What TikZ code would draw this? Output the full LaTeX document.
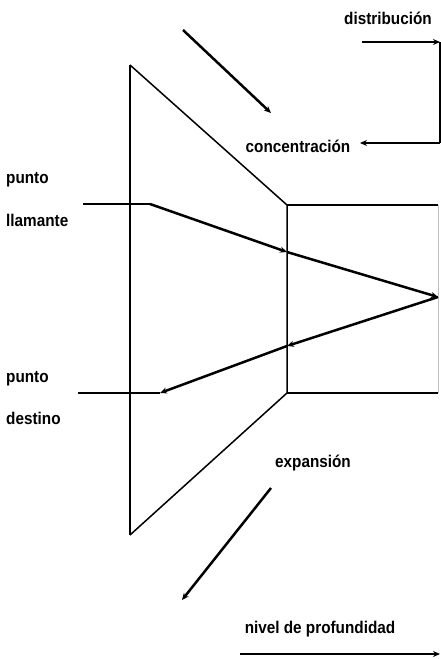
\documentclass[tikz,border=0pt]{standalone}
\usepackage{fontspec}
\setmainfont{Liberation Sans}[FakeStretch=0.9]
\usetikzlibrary{arrows.meta}
\begin{document}
\begin{tikzpicture}[x=1pt,y=-1pt,
  lbl/.style={font=\bfseries\fontsize{17}{20}\selectfont, inner sep=0pt},
  thin/.style={line width=1.5pt},
  thick/.style={line width=2.5pt},
  tip/.style={-{Stealth[length=7pt,width=6pt]}}]
\useasboundingbox (0,0) rectangle (440,659);
% key points
\coordinate (tl) at (130,65);
\coordinate (bl) at (130,535);
\coordinate (tr) at (287,205);
\coordinate (br) at (287,393);
\coordinate (rt) at (438,205);
\coordinate (rb) at (438,393);
\coordinate (apex) at (438,297);
\coordinate (cin) at (83,204);
\coordinate (cbend) at (150,204);
\coordinate (cmid) at (287,252);
\coordinate (dmid) at (287,346);
\coordinate (dend) at (160,393);
\coordinate (dout) at (78,393);
% trapezoid and box
\draw[thin] (tl) -- (bl);
\draw[thin] (tl) -- (tr) -- (br) -- (bl);
\draw[thin] (tr) -- (rt);
\draw[thin] (br) -- (rb);
\draw[line width=0.5pt, gray!50] (rt) -- (rb);
% call path
\draw[thick] (cin) -- (cbend);
\draw[thick, tip] (cbend) -- (cmid);
\draw[thick, tip] (cmid) -- (apex);
\draw[thick, tip] (apex) -- (dmid);
\draw[thick, tip] (dmid) -- (dend);
\draw[thick] (dend) -- (dout);
% concentration / expansion arrows
\coordinate (ca) at (183,30);
\coordinate (cb) at (271,113);
\draw[thick, tip] (ca) -- (cb);
\coordinate (ea) at (271,488);
\coordinate (eb) at (182,600);
\draw[thick, tip] (ea) -- (eb);
% distribution
\coordinate (d1) at (362,42);
\coordinate (d2) at (440,42);
\coordinate (d3) at (440,143);
\coordinate (d4) at (360,143);
\draw[thick, tip] (d1) -- (d2);
\draw[thin] (d2) -- (d3);
\draw[thick, tip] (d3) -- (d4);
% depth
\coordinate (n1) at (240,654);
\coordinate (n2) at (440,654);
\draw[thick, tip] (n1) -- (n2);
% labels
\node[lbl] (tdist) at (388,18) {distribución};
\node[lbl] (tconc) at (298,146) {concentración};
\node[lbl, anchor=west] (tp1) at (6,180) {punto};
\node[lbl, anchor=west] (tll) at (6,220) {llamante};
\node[lbl, anchor=west] (tp2) at (6,379) {punto};
\node[lbl, anchor=west] (tdes) at (6,418) {destino};
\node[lbl] (texp) at (313,463) {expansión};
\node[lbl] (tniv) at (320,629) {nivel de profundidad};
\end{tikzpicture}
\end{document}
